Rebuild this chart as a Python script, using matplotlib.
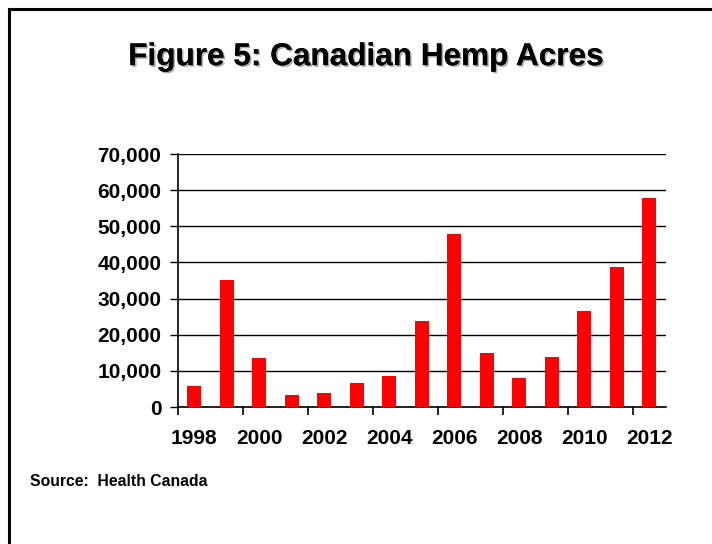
import matplotlib
matplotlib.use("Agg")
import matplotlib.pyplot as plt
import matplotlib.patheffects as pe
from matplotlib.ticker import FixedLocator, FuncFormatter
from matplotlib.lines import Line2D

plt.rcParams['font.family'] = ['Liberation Sans', 'DejaVu Sans']

years = list(range(1998, 2013))
acres = [5900, 35100, 13500, 3300, 3900, 6600, 8600, 23800,
         47900, 14900, 8000, 13800, 26600, 38700, 57800]
y_ticks = [0, 10000, 20000, 30000, 40000, 50000, 60000, 70000]

fig = plt.figure(figsize=(7.12, 5.44), dpi=100)

# frame lines along the top and left edges
fig.add_artist(Line2D([0.0126, 0.0126], [0.0, 0.9835], transform=fig.transFigure,
                      color='black', lw=2.2, solid_capstyle='projecting'))
fig.add_artist(Line2D([0.0126, 1.0], [0.9835, 0.9835], transform=fig.transFigure,
                      color='black', lw=2.2, solid_capstyle='projecting'))

fig.text(0.514, 0.895, 'Figure 5: Canadian Hemp Acres', ha='center', va='center',
         fontsize=22.7, fontweight='bold',
         path_effects=[pe.withSimplePatchShadow(offset=(1.2, -1.2), shadow_rgbFace='#999999', alpha=0.8),
                       pe.Normal()])

ax = fig.add_axes([0.25, 0.2518, 0.6847, 0.4651])
x = list(range(len(years)))
ax.bar(x, acres, width=0.44, color='#ff0000', zorder=3)

ax.set_xlim(-0.5, len(years) - 0.5)
ax.set_ylim(0, 70000)

ax.yaxis.set_major_locator(FixedLocator(y_ticks))
ax.yaxis.set_major_formatter(FuncFormatter(lambda v, p: f'{int(v):,}'))
ax.grid(axis='y', color='black', lw=1.0, zorder=1)

label_pos = x[::2]
ax.xaxis.set_major_locator(FixedLocator(label_pos))
ax.set_xticklabels([str(years[i]) for i in label_pos])
ax.xaxis.set_minor_locator(FixedLocator([-0.5 + 2 * j for j in range(8)]))
ax.tick_params(axis='x', which='major', length=0, pad=16, labelsize=15)
ax.tick_params(axis='x', which='minor', length=6, width=1.2, direction='out', color='black')
ax.tick_params(axis='y', length=6, width=1.0, direction='out', pad=6, labelsize=15)
for lab in ax.get_xticklabels() + ax.get_yticklabels():
    lab.set_fontweight('bold')

for side in ('top', 'right'):
    ax.spines[side].set_visible(False)
ax.spines['left'].set_linewidth(1.2)
ax.spines['bottom'].set_linewidth(1.2)

fig.text(0.042, 0.114, 'Source:  Health Canada', ha='left', va='center',
         fontsize=11.3, fontweight='bold')

fig.savefig('out.png', dpi=100)
